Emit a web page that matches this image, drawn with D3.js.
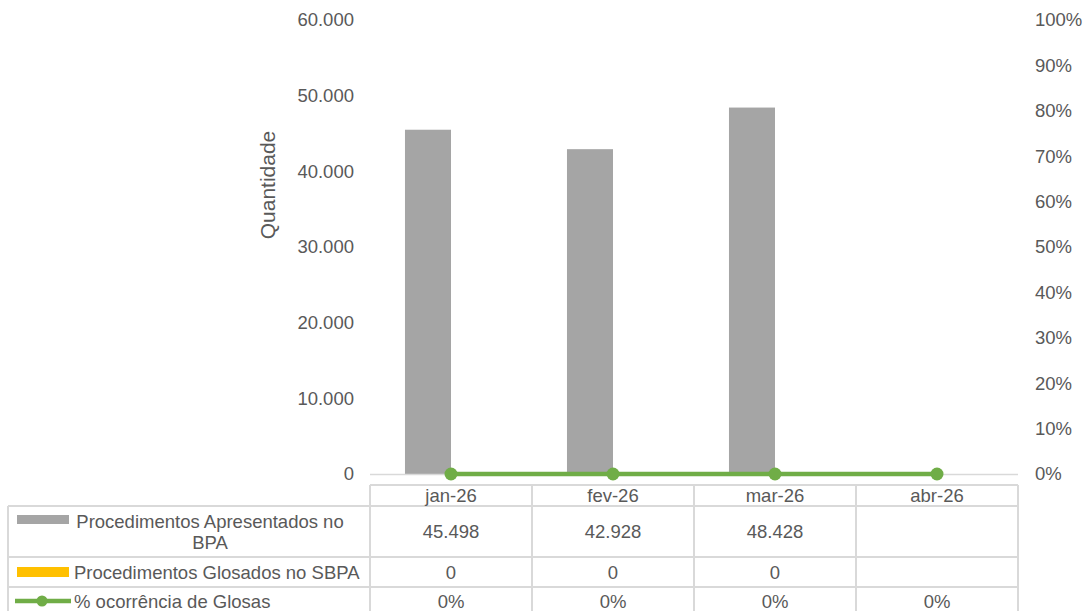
<!DOCTYPE html>
<html>
<head>
<meta charset="utf-8">
<script src="https://cdn.jsdelivr.net/npm/d3@7"></script>
<style>
  body { margin: 0; background: #fff; }
  svg text { font-family: "Liberation Sans", Arial, sans-serif; fill: #595959; }
</style>
</head>
<body>
<div id="chart"></div>
<script>
// data
const months = ["jan-26", "fev-26", "mar-26", "abr-26"]
const apresentados = [45498, 42928, 48428, null]
const glosados = [0, 0, 0, null]
const pctGlosas = [0, 0, 0, 0]
const leftTicks = [0, 10000, 20000, 30000, 40000, 50000, 60000]
const rightTicks = [0, 0.1, 0.2, 0.3, 0.4, 0.5, 0.6, 0.7, 0.8, 0.9, 1]

const W = 1087, H = 611
const plot = {left: 370, right: 1018, top: 20, bottom: 474}
const gray = "#a5a5a5", gold = "#ffc000", green = "#70ad47", gridCol = "#d9d9d9"
const fs = 18.5

const pt = d3.formatLocale({decimal: ",", thousands: ".", grouping: [3], currency: ["R$", ""]})
const fmtNum = pt.format(",.0f")
const fmtPct = pt.format(".0%")

const svg = d3.select("#chart").append("svg")
  .attr("width", W).attr("height", H)

const x = d3.scaleBand().domain(months).range([plot.left, plot.right])
const y = d3.scaleLinear().domain([0, 60000]).range([plot.bottom, plot.top])
const y2 = d3.scaleLinear().domain([0, 1]).range([plot.bottom, plot.top])
// two bar series inside each month
const xs = d3.scaleBand().domain(["a", "g"]).range([0, x.bandwidth()]).paddingOuter(0.76).paddingInner(0)

// left axis
const yAxis = d3.axisLeft(y).tickValues(leftTicks).tickFormat(fmtNum).tickSize(0).tickPadding(16)
svg.append("g").attr("transform", "translate(" + plot.left + ",0)")
  .call(yAxis)
  .call(g => g.select(".domain").remove())
  .selectAll("text").attr("font-size", fs).style("fill", "#595959")
  .attr("font-family", "Liberation Sans, Arial, sans-serif")

// right axis
const yAxis2 = d3.axisRight(y2).tickValues(rightTicks).tickFormat(fmtPct).tickSize(0).tickPadding(17)
svg.append("g").attr("transform", "translate(" + plot.right + ",0)")
  .call(yAxis2)
  .call(g => g.select(".domain").remove())
  .selectAll("text").attr("font-size", fs).style("fill", "#595959")
  .attr("font-family", "Liberation Sans, Arial, sans-serif")

// axis title
svg.append("text")
  .attr("transform", "translate(275,185) rotate(-90)")
  .attr("text-anchor", "middle")
  .attr("font-size", 21)
  .text("Quantidade")

// bars
svg.selectAll(".bar-a").data(months.map((m, i) => ({m, v: apresentados[i]})).filter(d => d.v != null))
  .enter().append("rect").attr("class", "bar-a")
  .attr("x", d => x(d.m) + xs("a"))
  .attr("width", xs.bandwidth())
  .attr("y", d => y(d.v))
  .attr("height", d => y(0) - y(d.v))
  .attr("fill", gray)

svg.selectAll(".bar-g").data(months.map((m, i) => ({m, v: glosados[i]})).filter(d => d.v != null))
  .enter().append("rect").attr("class", "bar-g")
  .attr("x", d => x(d.m) + xs("g"))
  .attr("width", xs.bandwidth())
  .attr("y", d => y(d.v))
  .attr("height", d => y(0) - y(d.v))
  .attr("fill", gold)

// baseline
svg.append("line")
  .attr("x1", plot.left).attr("x2", plot.right)
  .attr("y1", y(0) + 0.5).attr("y2", y(0) + 0.5)
  .attr("stroke", gridCol).attr("stroke-width", 1.5)

// line series
const line = d3.line().x((d, i) => x(months[i]) + x.bandwidth() / 2).y(d => y2(d))
svg.append("path").datum(pctGlosas)
  .attr("d", line).attr("fill", "none")
  .attr("stroke", green).attr("stroke-width", 4.5)
svg.selectAll(".dot").data(pctGlosas).enter().append("circle")
  .attr("cx", (d, i) => x(months[i]) + x.bandwidth() / 2)
  .attr("cy", d => y2(d))
  .attr("r", 6.5).attr("fill", green)

// data table
const tbl = {left: 8, headTop: 485, rows: [506, 557, 587]}
const t = svg.append("g").attr("class", "table")
const lineStyle = sel => sel.attr("stroke", gridCol).attr("stroke-width", 2)

// horizontal lines
t.append("line").attr("x1", plot.left).attr("x2", plot.right)
  .attr("y1", tbl.headTop).attr("y2", tbl.headTop).call(lineStyle)
tbl.rows.forEach(ry => {
  t.append("line").attr("x1", tbl.left).attr("x2", plot.right)
    .attr("y1", ry).attr("y2", ry).call(lineStyle)
})
// vertical lines
t.append("line").attr("x1", tbl.left).attr("x2", tbl.left)
  .attr("y1", tbl.rows[0]).attr("y2", H).call(lineStyle)
months.forEach(m => {
  t.append("line").attr("x1", x(m)).attr("x2", x(m))
    .attr("y1", tbl.headTop).attr("y2", H).call(lineStyle)
})
t.append("line").attr("x1", plot.right).attr("x2", plot.right)
  .attr("y1", tbl.headTop).attr("y2", H).call(lineStyle)

// header
t.selectAll(".hd").data(months).enter().append("text")
  .attr("x", d => x(d) + x.bandwidth() / 2)
  .attr("y", 502)
  .attr("text-anchor", "middle").attr("font-size", fs)
  .text(d => d)

// row labels with legend keys
const keyX = 17, keyW = 52, labelCx = 210
t.append("rect").attr("x", keyX).attr("y", 515).attr("width", keyW).attr("height", 9).attr("fill", gray)
t.append("text").attr("x", labelCx).attr("y", 528).attr("text-anchor", "middle").attr("font-size", fs)
  .text("Procedimentos Apresentados no")
t.append("text").attr("x", labelCx).attr("y", 549).attr("text-anchor", "middle").attr("font-size", fs)
  .text("BPA")

t.append("rect").attr("x", keyX).attr("y", 567).attr("width", keyW).attr("height", 10).attr("fill", gold)
t.append("text").attr("x", 74).attr("y", 579).attr("font-size", fs)
  .text("Procedimentos Glosados no SBPA")

t.append("line").attr("x1", 15).attr("x2", 71).attr("y1", 601).attr("y2", 601)
  .attr("stroke", green).attr("stroke-width", 4.5)
t.append("circle").attr("cx", 42).attr("cy", 601).attr("r", 5.5).attr("fill", green)
t.append("text").attr("x", 74).attr("y", 608).attr("font-size", fs)
  .text("% ocorrência de Glosas")

// row values
const cell = (vals, fmt, cy) => {
  t.selectAll(null).data(months.map((m, i) => ({m, v: vals[i]})).filter(d => d.v != null))
    .enter().append("text")
    .attr("x", d => x(d.m) + x.bandwidth() / 2)
    .attr("y", cy)
    .attr("text-anchor", "middle").attr("font-size", fs)
    .text(d => fmt(d.v))
}
cell(apresentados, fmtNum, 538)
cell(glosados, fmtNum, 579)
cell(pctGlosas, fmtPct, 608)
</script>
</body>
</html>
